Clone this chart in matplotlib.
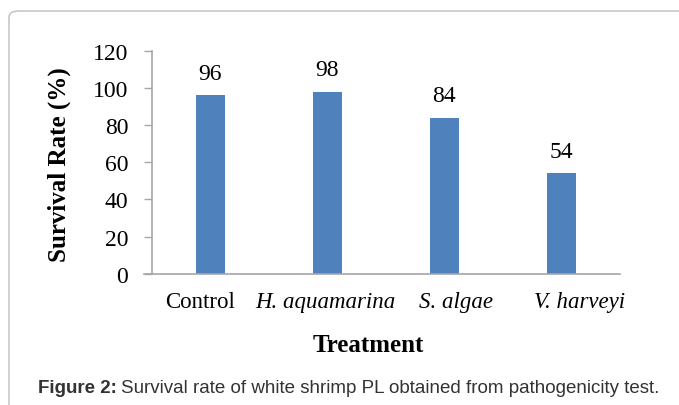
import matplotlib
matplotlib.use("Agg")
import matplotlib.pyplot as plt
import matplotlib.transforms as mtransforms
from matplotlib.patches import FancyBboxPatch

categories = ["Control", "H. aquamarina", "S. algae", "V. harveyi"]
italic_flags = [False, True, True, True]
survival = [96, 98, 84, 54]
yticks = [0, 20, 40, 60, 80, 100, 120]

W, H = 679, 406
fig = plt.figure(figsize=(W / 100, H / 100), dpi=100)
fig.patch.set_facecolor("white")

# outer border with rounded top-left corner
border = FancyBboxPatch((9 / W, -0.2), 1.2, (H - 12) / H + 0.2,
                        boxstyle="round,pad=0,rounding_size=0.015",
                        transform=fig.transFigure, fill=False,
                        edgecolor="#BDBDBD", linewidth=1.0, zorder=0)
fig.patches.append(border)

ax_left, ax_right = 151.7 / W, 619.7 / W
ax_bottom, ax_top = 1 - 274.8 / H, 1 - 51.7 / H
ax = fig.add_axes([ax_left, ax_bottom, ax_right - ax_left, ax_top - ax_bottom])

serif = "Liberation Serif"
x = list(range(len(categories)))
bars = ax.bar(x, survival, width=0.25, color="#4F81BD", zorder=2)
ax.set_xlim(-0.5, len(categories) - 0.5)
ax.set_ylim(0, 120)
ax.set_yticks(yticks)
ax.set_yticklabels([str(v) for v in yticks], fontfamily=serif, fontsize=17)

for xi, v in zip(x, survival):
    ax.annotate(str(v), (xi, v), xytext=(0, 12), textcoords="offset points",
                ha="center", va="baseline", fontfamily=serif, fontsize=17)

ax.set_xticks(x)
ax.set_xticklabels([])
offsets_px = [-10, -1.5, 12, 18]
for xi, name, it, dx in zip(x, categories, italic_flags, offsets_px):
    tr = ax.get_xaxis_transform() + mtransforms.ScaledTranslation(dx / 100, -33.5 / 100, fig.dpi_scale_trans)
    ax.text(xi, 0, name, transform=tr, ha="center", va="baseline",
            fontfamily=serif, fontsize=16.5, fontstyle="italic" if it else "normal")

ax.tick_params(axis="x", length=0)
ax.tick_params(axis="y", length=5.8, width=1, color="#A6A6A6", pad=11, direction="out")
for s in ["top", "right"]:
    ax.spines[s].set_visible(False)
for s in ["left", "bottom"]:
    ax.spines[s].set_color("#A6A6A6")
    ax.spines[s].set_linewidth(1.2)
ax.spines["bottom"].set_bounds(-0.5 - 8 / 117, len(categories) - 0.5)

fig.text(59 / W, 1 - 165 / H, "Survival Rate (%)", rotation=90, ha="center",
         va="center", fontfamily=serif, fontweight="bold", fontsize=18)
fig.text(368.5 / W, 1 - 352 / H, "Treatment", ha="center", va="baseline",
         fontfamily=serif, fontweight="bold", fontsize=18)

# caption
cap_color = "#333333"
fs = 13.5
t1 = fig.text(38 / W, 1 - 393 / H, "Figure 2:", ha="left", va="baseline",
              fontfamily="Liberation Sans", fontweight="bold", fontsize=fs, color=cap_color)
fig.canvas.draw()
r = fig.canvas.get_renderer()
bb = t1.get_window_extent(r)
t2 = fig.text((bb.x1 + 4) / W, 1 - 393 / H,
              "Survival rate of white shrimp PL obtained from pathogenicity test.",
              ha="left", va="baseline", fontfamily="Liberation Sans",
              fontsize=fs, color=cap_color)

fig.savefig("out.png", dpi=100, facecolor="white")
